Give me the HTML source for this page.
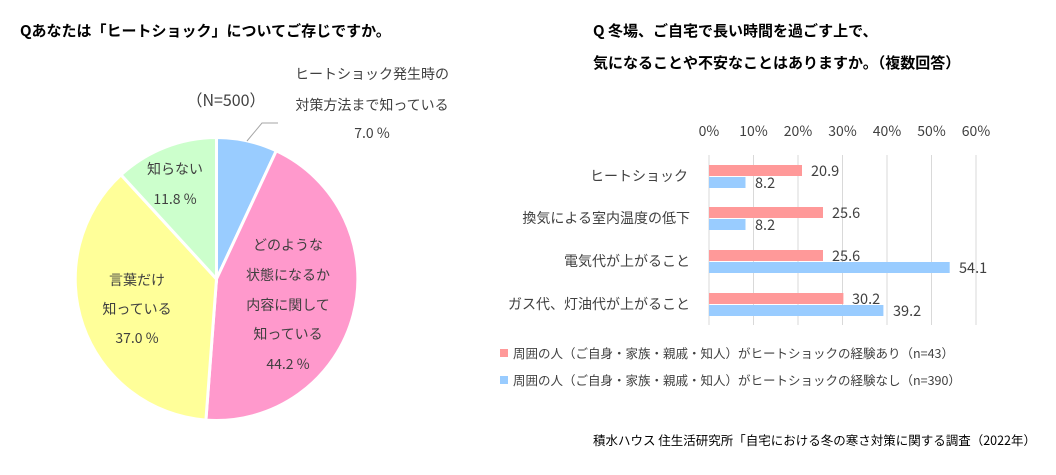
<!DOCTYPE html><html><head><meta charset="utf-8"><style>
body{margin:0;background:#fff}
svg text{font-family:"Noto Sans CJK JP","Liberation Sans",sans-serif;fill:#404040}
</style></head><body>
<svg width="1056" height="470" viewBox="0 0 1056 470">
<text x="20" y="36" font-size="15" font-weight="bold" style="fill:#000">Qあなたは「ヒートショック」についてご存じですか。</text>
<text x="593" y="36" font-size="15" font-weight="bold" style="fill:#000">Q 冬場、ご自宅で長い時間を過ごす上で、</text>
<text x="593" y="68" font-size="15" font-weight="bold" style="fill:#000">気になることや不安なことはありますか。（複数回答）</text>
<g stroke="#fff" stroke-width="3">
<path d="M216.5,279 L216.5,137.5 A141.5,141.5 0 0 1 276.3,150.8 Z" fill="#99CCFF"/>
<path d="M216.5,279 L276.3,150.8 A141.5,141.5 0 0 1 205.9,420.1 Z" fill="#FF99CC"/>
<path d="M216.5,279 L205.9,420.1 A141.5,141.5 0 0 1 121.0,174.8 Z" fill="#FFFF99"/>
<path d="M216.5,279 L121.0,174.8 A141.5,141.5 0 0 1 216.5,137.5 Z" fill="#CCFFCC"/>
</g>
<polyline points="247,141 262,123 278,123" fill="none" stroke="#a6a6a6"/>
<g font-size="14" text-anchor="middle">
<text x="226" y="106" font-size="16">（N=500）</text>
<text x="372" y="79">ヒートショック発生時の</text>
<text x="372" y="110">対策方法まで知っている</text>
<text x="372" y="138">7.0 %</text>
<text x="175" y="174">知らない</text>
<text x="175" y="204">11.8 %</text>
<text x="288" y="250">どのような</text>
<text x="288" y="280">状態になるか</text>
<text x="288" y="310">内容に関して</text>
<text x="288" y="339">知っている</text>
<text x="288" y="369">44.2 %</text>
<text x="137" y="285">言葉だけ</text>
<text x="137" y="314">知っている</text>
<text x="137" y="343">37.0 %</text>
</g>
<g stroke="#d9d9d9">
<line x1="709" y1="155" x2="709" y2="325"/><line x1="753.5" y1="155" x2="753.5" y2="325"/><line x1="798" y1="155" x2="798" y2="325"/><line x1="842.5" y1="155" x2="842.5" y2="325"/><line x1="887" y1="155" x2="887" y2="325"/><line x1="931.5" y1="155" x2="931.5" y2="325"/><line x1="976" y1="155" x2="976" y2="325"/>
</g>
<g font-size="14" text-anchor="middle">
<text x="709" y="136">0%</text><text x="753.5" y="136">10%</text><text x="798" y="136">20%</text><text x="842.5" y="136">30%</text><text x="887" y="136">40%</text><text x="931.5" y="136">50%</text><text x="976" y="136">60%</text>
</g>
<g fill="#FF9999">
<rect x="709" y="165" width="93" height="11"/><rect x="709" y="207" width="114" height="11"/><rect x="709" y="250" width="114" height="11"/><rect x="709" y="293" width="134.4" height="11"/>
</g>
<g fill="#99CCFF">
<rect x="709" y="177" width="36.5" height="11"/><rect x="709" y="219" width="36.5" height="11"/><rect x="709" y="262" width="240.7" height="11"/><rect x="709" y="305" width="174.4" height="11"/>
</g>
<g font-size="14.5">
<text x="811" y="176">20.9</text><text x="755" y="188">8.2</text>
<text x="832" y="218">25.6</text><text x="755" y="230">8.2</text>
<text x="832" y="261">25.6</text><text x="959" y="273">54.1</text>
<text x="852" y="304">30.2</text><text x="893" y="316">39.2</text>
</g>
<g font-size="14" text-anchor="end">
<text x="688" y="181">ヒートショック</text>
<text x="690" y="223">換気による室内温度の低下</text>
<text x="690" y="266">電気代が上がること</text>
<text x="690" y="309">ガス代、灯油代が上がること</text>
</g>
<rect x="500" y="349" width="8" height="8" fill="#FF9999"/>
<rect x="500" y="376" width="8" height="8" fill="#99CCFF"/>
<g font-size="12.5">
<text x="513" y="358">周囲の人（ご自身・家族・親戚・知人）がヒートショックの経験あり（n=43）</text>
<text x="513" y="385">周囲の人（ご自身・家族・親戚・知人）がヒートショックの経験なし（n=390）</text>
</g>
<text x="1036" y="445" font-size="12.5" text-anchor="end" style="fill:#000">積水ハウス 住生活研究所「自宅における冬の寒さ対策に関する調査（2022年）</text>
</svg>
</body></html>
